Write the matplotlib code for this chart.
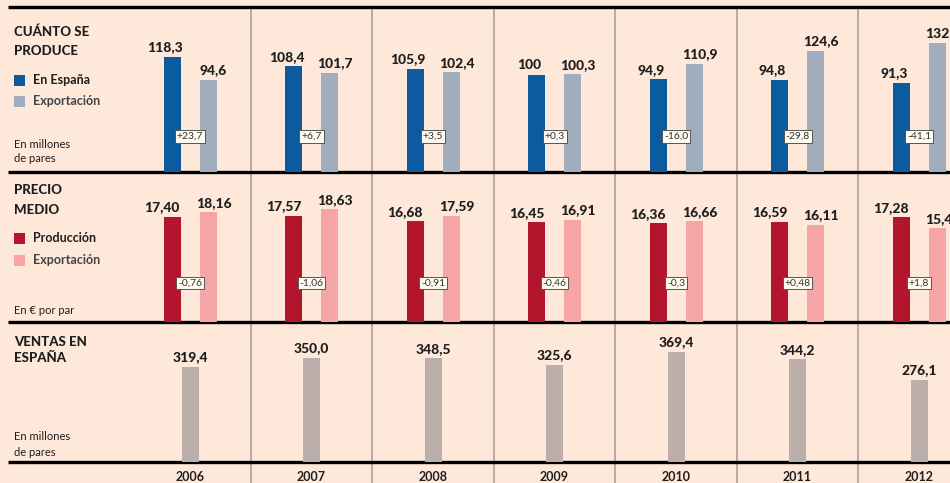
import matplotlib
matplotlib.use("Agg")
import matplotlib.pyplot as plt

# ---------- data
anios = ["2006", "2007", "2008", "2009", "2010", "2011", "2012"]

prod_espana = [118.3, 108.4, 105.9, 100, 94.9, 94.8, 91.3]
prod_export = [94.6, 101.7, 102.4, 100.3, 110.9, 124.6, 132.4]
prod_dif = ["+23,7", "+6,7", "+3,5", "+0,3", "-16,0", "-29,8", "-41,1"]

precio_prod = [17.40, 17.57, 16.68, 16.45, 16.36, 16.59, 17.28]
precio_export = [18.16, 18.63, 17.59, 16.91, 16.66, 16.11, 15.48]
precio_dif = ["-0,76", "-1,06", "-0,91", "-0,46", "-0,3", "+0,48", "+1,8"]

ventas = [319.4, 350.0, 348.5, 325.6, 369.4, 344.2, 276.1]

# ---------- styling
BG = "#fde8da"
AZUL = "#0b5b9e"
GRIS_AZUL = "#9fadbd"
ROJO = "#b3152d"
ROSA = "#f5a5a4"
TAUPE = "#bcafab"
TXT = "#1e1e1e"
SEP = "#aaa19c"

W, H = 950, 483
COL = 121.5      # px per year column
X0 = 190         # px centre of first column
FONT = "Lato"

def fmt(v, dec):
    if dec == 1 and v == int(v) and v < 200:
        return str(int(v))
    return ("{:.%df}" % dec).format(v).replace(".", ",")

fig = plt.figure(figsize=(W / 100, H / 100), dpi=100, facecolor=BG)

# frame axes in pixel coordinates (y) and column index (x)
fr = fig.add_axes([0, 0, 1, 1], facecolor=BG)
fr.set_xlim(-X0 / COL, (W - X0) / COL)
fr.set_ylim(H, 0)
fr.axis("off")

for k in range(len(anios) - 1):
    fr.plot([k + 0.5, k + 0.5], [7, H], color=SEP, lw=1.2, zorder=1)
x_left = (8 - X0) / COL
for y in [7, 172, 322, 462]:
    fr.plot([x_left, (W - X0) / COL], [y, y], color="black", lw=2.4,
            solid_capstyle="butt", zorder=5)

for k, a in enumerate(anios):
    fr.text(k, 477, a, ha="center", va="center", fontsize=9,
            fontweight="bold", family=FONT, color=TXT)

# left side labels
lx = (14 - X0) / COL
tx = (33 - X0) / COL
def titulo(lines, ys):
    for s, y in zip(lines, ys):
        fr.text(lx, y, s, ha="left", va="center", fontsize=9.5,
                fontweight="black", family=FONT, color=TXT)

def nota(lines, ys):
    for s, y in zip(lines, ys):
        fr.text(lx, y, s, ha="left", va="center", fontsize=8,
                family=FONT, color=TXT)

def leyenda(items, ys):
    for (s, c, tc), y in zip(items, ys):
        fr.add_patch(plt.Rectangle((lx, y - 5.5), 11.5 / COL, 11.5,
                                   facecolor=c, edgecolor="none"))
        fr.text(tx, y, s, ha="left", va="center", fontsize=9,
                fontweight="bold", family=FONT, color=tc)

titulo(["CUÁNTO SE", "PRODUCE"], [32, 51])
leyenda([("En España", AZUL, TXT), ("Exportación", GRIS_AZUL, "#444444")], [80, 101])
nota(["En millones", "de pares"], [145, 159])

titulo(["PRECIO", "MEDIO"], [190, 210])
leyenda([("Producción", ROJO, TXT), ("Exportación", ROSA, "#444444")], [238, 260])
nota(["En € por par"], [310])

titulo(["VENTAS EN", "ESPAÑA"], [342, 358])
nota(["En millones", "de pares"], [437, 452])

# ---------- panels
def panel(top, bottom, ymax):
    ax = fig.add_axes([8 / W, (H - bottom) / H, (W - 8) / W, (bottom - top) / H])
    ax.set_facecolor("none")
    ax.set_xlim(x_left, (W - X0) / COL)
    ax.set_ylim(0, ymax)
    ax.axis("off")
    return ax

x = list(range(len(anios)))
bw = 17 / COL
off = 18 / COL

def etiquetas(ax, xs, vals, dec, dx, size=10):
    for xi, v in zip(xs, vals):
        ax.annotate(fmt(v, dec), (xi, v), xytext=(dx, 2.5),
                    textcoords="offset points", ha="center", va="bottom",
                    fontsize=size, fontweight="black", family=FONT, color=TXT)

def difs(ax, labels, yfrac):
    for xi, s in zip(x, labels):
        ax.text(xi, yfrac, s, transform=ax.get_xaxis_transform(),
                ha="center", va="center", fontsize=7.5, family=FONT,
                color="#333333", zorder=6,
                bbox=dict(boxstyle="square,pad=0.18", fc="#fffaf2",
                          ec="#555555", lw=0.7))

# panel 1: production
ax1 = panel(7, 172, 165 / 0.975)
xa = [i - off for i in x]
xb = [i + off for i in x]
ax1.bar(xa, prod_espana, width=bw, color=AZUL)
ax1.bar(xb, prod_export, width=bw, color=GRIS_AZUL)
etiquetas(ax1, xa, prod_espana, 1, -5)
etiquetas(ax1, xb, prod_export, 1, 4)
difs(ax1, prod_dif, 0.215)

# panel 2: average price
ax2 = panel(172, 322, 150 / 6.05)
ax2.bar(xa, precio_prod, width=bw, color=ROJO)
ax2.bar(xb, precio_export, width=bw, color=ROSA)
etiquetas(ax2, xa, precio_prod, 2, -7)
etiquetas(ax2, xb, precio_export, 2, 4)
difs(ax2, precio_dif, 0.26)

# panel 3: sales in Spain
ax3 = panel(322, 462, 140 / 0.298)
ax3.bar(x, ventas, width=bw, color=TAUPE)
etiquetas(ax3, x, ventas, 1, 0)

fig.savefig("out.png", dpi=100, facecolor=BG)
